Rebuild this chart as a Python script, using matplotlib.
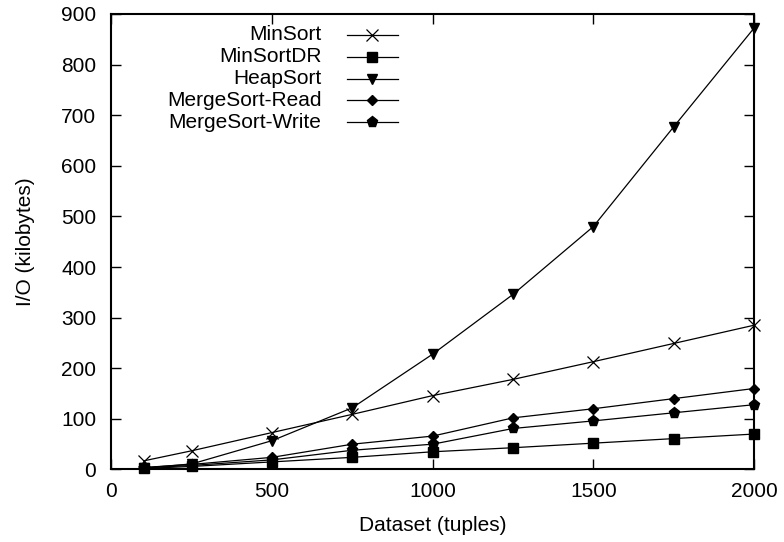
import matplotlib
matplotlib.use("Agg")
import matplotlib.pyplot as plt

plt.rcParams["font.family"] = ["Liberation Sans", "DejaVu Sans"]
plt.rcParams["font.size"] = 15

# Dataset sizes (tuples)
dataset = [100, 250, 500, 750, 1000, 1250, 1500, 1750, 2000]

# I/O in kilobytes per algorithm
minsort = [17, 37, 73, 109, 146, 178, 213, 249, 285]
minsort_dr = [2, 6, 15, 24, 35, 43, 52, 61, 70]
heapsort = [3, 11, 57, 122, 228, 346, 480, 677, 872]
mergesort_read = [4, 10, 24, 50, 66, 102, 120, 140, 160]
mergesort_write = [3, 8, 19, 38, 50, 81, 96, 112, 128]

series = [
    ("MinSort", minsort, dict(marker="x", ms=8, mew=0.9)),
    ("MinSortDR", minsort_dr, dict(marker="s", ms=7.5)),
    ("HeapSort", heapsort, dict(marker="v", ms=7.5)),
    ("MergeSort-Read", mergesort_read, dict(marker="D", ms=5.5)),
    ("MergeSort-Write", mergesort_write, dict(marker="p", ms=8)),
]

fig = plt.figure(figsize=(7.84, 5.42), dpi=100)
ax = fig.add_axes([0.1422, 0.1338, 0.8195, 0.8404])

for name, vals, style in series:
    ax.plot(dataset, vals, color="black", lw=0.9, mfc="black", mec="black",
            clip_on=False, **style)

ax.set_xlim(0, 2000)
ax.set_ylim(0, 900)
ax.set_xticks([0, 500, 1000, 1500, 2000])
ax.set_yticks(range(0, 901, 100))
ax.tick_params(direction="in", length=7, width=1.0, top=True, right=True,
               labelsize=15)
ax.tick_params(axis="x", pad=9)
ax.tick_params(axis="y", pad=11)
for s in ax.spines.values():
    s.set_linewidth(1.5)

ax.set_xlabel("Dataset (tuples)", fontsize=15, labelpad=11)
ax.set_ylabel("I/O (kilobytes)", fontsize=15, labelpad=19)

# Key: right-aligned names with a line sample to their right
text_x = 0.327
line_x0, line_x1 = 0.366, 0.446
row_y0, row_dy = 0.954, 0.0479
for i, (name, vals, style) in enumerate(series):
    y = row_y0 - i * row_dy
    ax.text(text_x, y, name, transform=ax.transAxes, ha="right", va="center",
            fontsize=15)
    ax.plot([line_x0, line_x1], [y, y], transform=ax.transAxes, color="black",
            lw=0.9, clip_on=False)
    ax.plot([(line_x0 + line_x1) / 2], [y], transform=ax.transAxes,
            color="black", mfc="black", mec="black", ls="none",
            clip_on=False, **style)

fig.savefig("out.png", dpi=100)
